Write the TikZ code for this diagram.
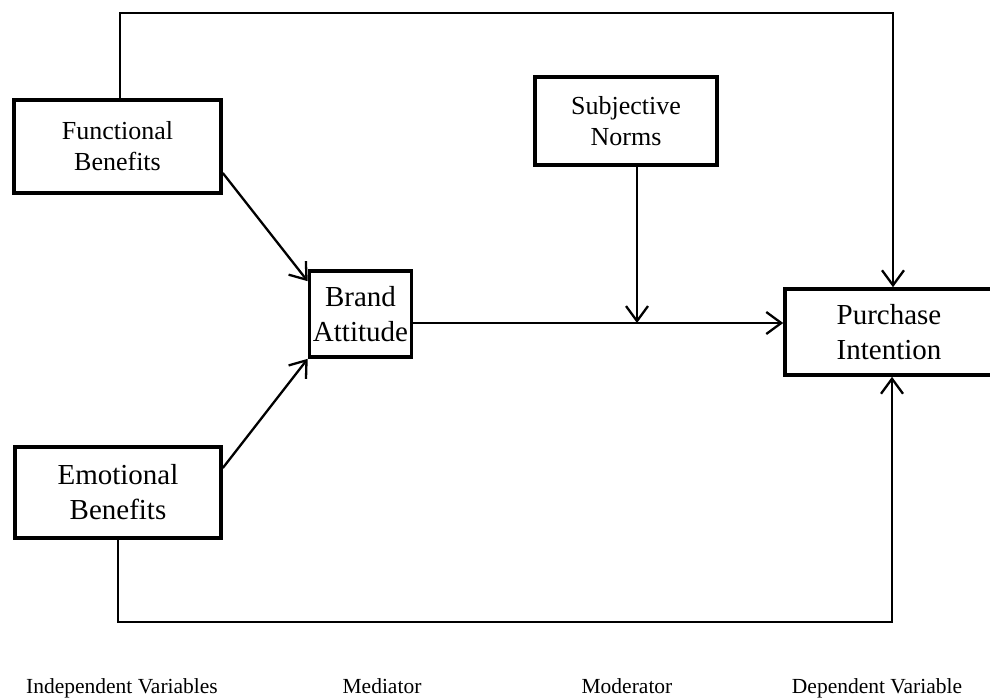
\documentclass[tikz,border=0pt]{standalone}
\usepackage{fontspec}
\setmainfont{Liberation Serif}
\usetikzlibrary{arrows.meta}
\begin{document}
\begin{tikzpicture}[x=1pt,y=-1pt,
  box/.style={draw=black,line width=3.6pt,align=center,inner sep=0pt},
  smalltxt/.style={font=\fontsize{26}{31}\selectfont},
  bigtxt/.style={font=\fontsize{29}{35}\selectfont},
  lbl/.style={font=\fontsize{21.5}{26}\selectfont,anchor=base,inner sep=0pt},
  arr/.style={draw=black,line width=2.3pt,-{Straight Barb[length=15pt,width=22pt,line width=2.3pt]}},
  conn/.style={draw=black,line width=2.3pt}]
\useasboundingbox (0,0) rectangle (990,699);
\node[box,smalltxt,minimum width=207pt,minimum height=93pt] (fb) at (117.5,146.5) {Functional\\Benefits};
\node[box,bigtxt,minimum width=206pt,minimum height=91pt] (eb) at (118,492.5) {Emotional\\Benefits};
\node[box,bigtxt,minimum width=102pt,minimum height=86pt] (ba) at (360.5,314) {Brand\\Attitude};
\node[box,smalltxt,minimum width=182pt,minimum height=88pt] (sn) at (626,121) {Subjective\\Norms};
\node[box,bigtxt,minimum width=208pt,minimum height=86pt] (pi) at (889,332) {Purchase\\Intention};
\coordinate (tr) at (893,13);
\coordinate (br) at (892,622);
\coordinate (mod) at (637,323);
\draw[arr] ([xshift=2.5pt]fb.north) |- (tr) -- (tr |- pi.north);
\draw[arr] (eb.south) |- (br) -- (br |- pi.south);
\draw[arr] ([yshift=-26.5pt]fb.east) -- ([yshift=-12pt]ba.north west);
\draw[arr] ([yshift=24.5pt]eb.east) -- (ba.south west);
\draw[arr] (ba.east |- mod) -- (pi.west |- mod);
\draw[arr] (sn.south -| mod) -- (mod);
\node[lbl] (l1) at (122,693) {Independent Variables};
\node[lbl] (l2) at (382,693) {Mediator};
\node[lbl] (l3) at (627,693) {Moderator};
\node[lbl] (l4) at (877,693) {Dependent Variable};
\end{tikzpicture}
\end{document}
